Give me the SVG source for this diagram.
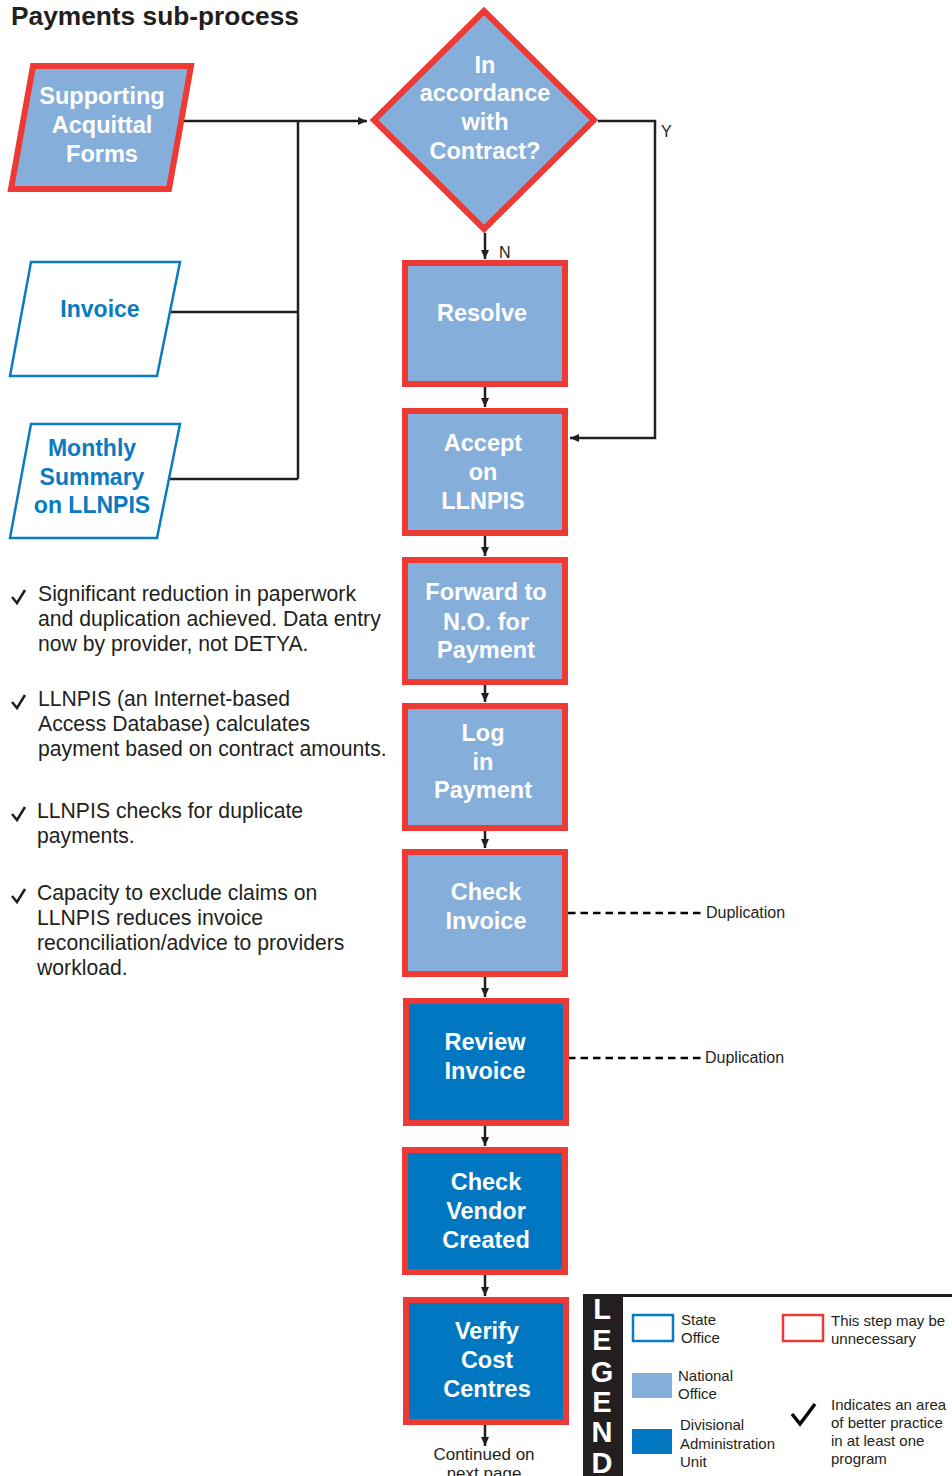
<svg xmlns="http://www.w3.org/2000/svg" width="952" height="1476" viewBox="0 0 952 1476">
<defs>
<marker id="ah" markerUnits="userSpaceOnUse" markerWidth="10" markerHeight="10" refX="9" refY="5" orient="auto">
<path d="M0,1 L9,5 L0,9 Z" fill="#231f20"/>
</marker>
<style>
.nat{fill:#86aedb;stroke:#ee3a34;stroke-width:6}
.div{fill:#0077c0;stroke:#ee3a34;stroke-width:6}
.st{fill:#ffffff;stroke:#0a7bc1;stroke-width:2.5}
.wt{font-family:"Liberation Sans",Arial,sans-serif;font-weight:bold;font-size:23.5px;fill:#ffffff;text-anchor:middle}
.bt{font-family:"Liberation Sans",Arial,sans-serif;font-weight:bold;font-size:23px;fill:#0a7bc1;text-anchor:middle}
.body{font-family:"Liberation Sans",Arial,sans-serif;font-size:21.2px;fill:#231f20}
.sm{font-family:"Liberation Sans",Arial,sans-serif;font-size:15px;fill:#231f20}
.conn{fill:none;stroke:#231f20;stroke-width:2.5}
.dash{fill:none;stroke:#000;stroke-width:2.5;stroke-dasharray:7.5 5}
.chk{fill:none;stroke:#231f20;stroke-width:2.5}
.leg{font-family:"Liberation Sans",Arial,sans-serif;font-weight:bold;font-size:29px;fill:#ffffff;text-anchor:middle}
</style>
</defs>
<rect width="952" height="1476" fill="#ffffff"/>
<text x="11" y="25" font-family="'Liberation Sans',Arial,sans-serif" font-weight="bold" font-size="26.3px" fill="#231f20">Payments sub-process</text>

<g id="connectors">
<path class="conn" d="M184,121 H367" marker-end="url(#ah)"/>
<path class="conn" d="M298,121 V479"/>
<path class="conn" d="M170,312 H298"/>
<path class="conn" d="M169,479 H298"/>
<path class="conn" d="M598,121 H655 V438 H570" marker-end="url(#ah)"/>
<path class="conn" d="M485,233 V259" marker-end="url(#ah)"/>
<path class="conn" d="M485,387 V407" marker-end="url(#ah)"/>
<path class="conn" d="M485,536 V556" marker-end="url(#ah)"/>
<path class="conn" d="M485,685 V702" marker-end="url(#ah)"/>
<path class="conn" d="M485,831 V848" marker-end="url(#ah)"/>
<path class="conn" d="M485,977 V997" marker-end="url(#ah)"/>
<path class="conn" d="M485,1126 V1146" marker-end="url(#ah)"/>
<path class="conn" d="M485,1275 V1296" marker-end="url(#ah)"/>
<path class="conn" d="M485,1425 V1446" marker-end="url(#ah)"/>
<path class="dash" d="M568,913 H702"/>
<path class="dash" d="M568,1058 H702"/>
<text class="sm" x="499" y="258" style="font-size:16px">N</text>
<text class="sm" x="661" y="137" style="font-size:16px">Y</text>
<text class="sm" x="706" y="918" style="font-size:16px">Duplication</text>
<text class="sm" x="705" y="1063" style="font-size:16px">Duplication</text>
<text class="sm" x="484" y="1460" text-anchor="middle" style="font-size:17px">Continued on</text>
<text class="sm" x="484" y="1479" text-anchor="middle" style="font-size:17px">next page</text>
</g>

<g id="supporting">
<polygon class="nat" points="33,66 191,66 169,189 11,189"/>
<text class="wt" x="102" y="104">Supporting</text>
<text class="wt" x="102" y="133">Acquittal</text>
<text class="wt" x="102" y="162">Forms</text>
</g>
<g id="invoice">
<polygon class="st" points="31,262 180,262 157,376 10,376"/>
<text class="bt" x="100" y="317">Invoice</text>
</g>
<g id="monthly">
<polygon class="st" points="31,424 180,424 157,538 10,538"/>
<text class="bt" x="92" y="456">Monthly</text>
<text class="bt" x="92" y="485">Summary</text>
<text class="bt" x="92" y="513">on LLNPIS</text>
</g>

<g id="decision">
<polygon class="nat" points="484,11 594,120 484,229 374,120"/>
<text class="wt" x="485" y="73">In</text>
<text class="wt" x="485" y="101">accordance</text>
<text class="wt" x="485" y="130">with</text>
<text class="wt" x="485" y="159">Contract?</text>
</g>

<g id="resolve">
<rect class="nat" x="405" y="263" width="160" height="121"/>
<text class="wt" x="482" y="321">Resolve</text>
</g>
<g id="accept">
<rect class="nat" x="405" y="411" width="160" height="122"/>
<text class="wt" x="483" y="451">Accept</text>
<text class="wt" x="483" y="480">on</text>
<text class="wt" x="483" y="509">LLNPIS</text>
</g>
<g id="forward">
<rect class="nat" x="405" y="560" width="160" height="122"/>
<text class="wt" x="486" y="600">Forward to</text>
<text class="wt" x="486" y="630">N.O. for</text>
<text class="wt" x="486" y="658">Payment</text>
</g>
<g id="login">
<rect class="nat" x="405" y="706" width="160" height="122"/>
<text class="wt" x="483" y="741">Log</text>
<text class="wt" x="483" y="770">in</text>
<text class="wt" x="483" y="798">Payment</text>
</g>
<g id="checkinvoice">
<rect class="nat" x="405" y="852" width="160" height="122"/>
<text class="wt" x="486" y="900">Check</text>
<text class="wt" x="486" y="929">Invoice</text>
</g>
<g id="reviewinvoice">
<rect class="div" x="406" y="1001" width="160" height="122"/>
<text class="wt" x="485" y="1050">Review</text>
<text class="wt" x="485" y="1079">Invoice</text>
</g>
<g id="checkvendor">
<rect class="div" x="405" y="1150" width="160" height="122"/>
<text class="wt" x="486" y="1190">Check</text>
<text class="wt" x="486" y="1219">Vendor</text>
<text class="wt" x="486" y="1248">Created</text>
</g>
<g id="verify">
<rect class="div" x="406" y="1300" width="160" height="122"/>
<text class="wt" x="487" y="1339">Verify</text>
<text class="wt" x="487" y="1368">Cost</text>
<text class="wt" x="487" y="1397">Centres</text>
</g>

<g id="notes">
<path class="chk" d="M12,597 L17,603 L25,590"/>
<text class="body" x="38" y="601">Significant reduction in paperwork</text>
<text class="body" x="38" y="626">and duplication achieved. Data entry</text>
<text class="body" x="38" y="651">now by provider, not DETYA.</text>
<path class="chk" d="M12,702 L17,708 L25,695"/>
<text class="body" x="38" y="706">LLNPIS (an Internet-based</text>
<text class="body" x="38" y="731">Access Database) calculates</text>
<text class="body" x="38" y="756">payment based on contract amounts.</text>
<path class="chk" d="M12,814 L17,820 L25,807"/>
<text class="body" x="37" y="818">LLNPIS checks for duplicate</text>
<text class="body" x="37" y="843">payments.</text>
<path class="chk" d="M12,896 L17,902 L25,889"/>
<text class="body" x="37" y="900">Capacity to exclude claims on</text>
<text class="body" x="37" y="925">LLNPIS reduces invoice</text>
<text class="body" x="37" y="950">reconciliation/advice to providers</text>
<text class="body" x="37" y="975">workload.</text>
</g>

<g id="legend">
<rect x="583" y="1294" width="40" height="182" fill="#231f20"/>
<path d="M583,1295.5 H952" stroke="#231f20" stroke-width="3"/>
<text class="leg" x="602" y="1319">L</text>
<text class="leg" x="602" y="1350">E</text>
<text class="leg" x="602" y="1382">G</text>
<text class="leg" x="602" y="1412">E</text>
<text class="leg" x="602" y="1442">N</text>
<text class="leg" x="602" y="1473">D</text>
<rect x="633" y="1315" width="40" height="26" fill="#ffffff" stroke="#0a7bc1" stroke-width="2.5"/>
<text class="sm" x="681" y="1325">State</text>
<text class="sm" x="681" y="1343">Office</text>
<rect x="632" y="1373" width="40" height="25" fill="#86aedb"/>
<text class="sm" x="678" y="1381">National</text>
<text class="sm" x="678" y="1399">Office</text>
<rect x="632" y="1429" width="40" height="25" fill="#0077c0"/>
<text class="sm" x="680" y="1430">Divisional</text>
<text class="sm" x="680" y="1449">Administration</text>
<text class="sm" x="680" y="1467">Unit</text>
<rect x="783" y="1315" width="40" height="26" fill="#ffffff" stroke="#ee3a34" stroke-width="2.5"/>
<text class="sm" x="831" y="1326">This step may be</text>
<text class="sm" x="831" y="1344">unnecessary</text>
<path d="M792,1414 L800,1424 L815,1404" fill="none" stroke="#000" stroke-width="3.5"/>
<text class="sm" x="831" y="1410">Indicates an area</text>
<text class="sm" x="831" y="1428">of better practice</text>
<text class="sm" x="831" y="1446">in at least one</text>
<text class="sm" x="831" y="1464">program</text>
</g>
</svg>
